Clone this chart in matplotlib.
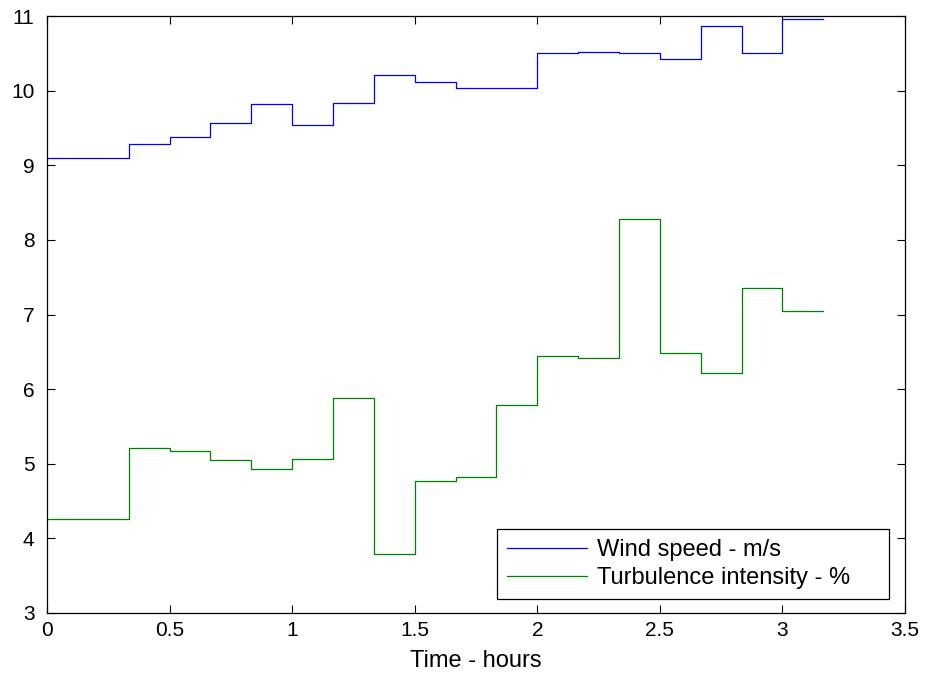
import matplotlib
matplotlib.use('Agg')
import matplotlib.pyplot as plt

plt.rcParams['font.family'] = ['Liberation Sans', 'DejaVu Sans']

# 10-minute averages, time in minutes from start
minutes = [0, 10, 20, 30, 40, 50, 60, 70, 80, 90, 100,
           110, 120, 130, 140, 150, 160, 170, 180, 190]
wind_speed = [9.10, 9.10, 9.28, 9.38, 9.56, 9.82, 9.54, 9.84, 10.21, 10.12,
              10.03, 10.03, 10.50, 10.52, 10.50, 10.42, 10.87, 10.50, 10.96, 10.96]
turbulence = [4.26, 4.26, 5.21, 5.17, 5.05, 4.93, 5.07, 5.88, 3.79, 4.77,
              4.82, 5.79, 6.45, 6.42, 8.28, 6.49, 6.21, 7.35, 7.05, 7.05]

hours = [m / 60 for m in minutes]

fig = plt.figure(figsize=(9.26, 6.75), dpi=100)
ax = fig.add_axes([47 / 926, 62 / 675, 858 / 926, 597 / 675])

ax.step(hours, wind_speed, where='post', color='#0000ff', lw=0.9, label='Wind speed - m/s')
ax.step(hours, turbulence, where='post', color='#008000', lw=0.9, label='Turbulence intensity - %')

ax.set_xlim(0, 3.5)
ax.set_ylim(3, 11)
ax.set_xticks([0, 0.5, 1, 1.5, 2, 2.5, 3, 3.5])
ax.set_xticklabels(['0', '0.5', '1', '1.5', '2', '2.5', '3', '3.5'])
ax.set_yticks(range(3, 12))
ax.tick_params(direction='in', length=6, width=0.8, labelsize=15,
               top=True, right=True)
ax.tick_params(axis='y', pad=9)
ax.tick_params(axis='x', pad=6)
for s in ax.spines.values():
    s.set_linewidth(0.9)

ax.set_xlabel('Time - hours', fontsize=17, labelpad=7)

# legend box stretched to the reference width
leg = ax.legend(loc='lower left', bbox_to_anchor=(497 / 926, 76 / 675, 392 / 926, 72 / 675),
                bbox_transform=fig.transFigure, borderaxespad=0, mode='expand',
                fontsize=17, fancybox=False, framealpha=1, edgecolor='black',
                handlelength=3.4, handletextpad=0.4, borderpad=0.42,
                labelspacing=0.25)
leg.get_frame().set_linewidth(0.9)

fig.savefig('out.png', dpi=100)
